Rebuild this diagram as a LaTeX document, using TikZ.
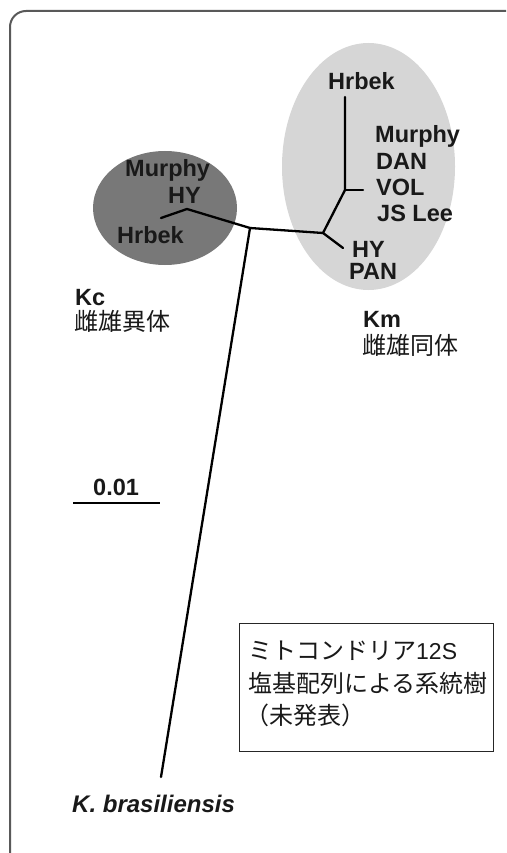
\documentclass[tikz,border=0pt]{standalone}
\usepackage{fontspec}
\setmainfont{Liberation Sans}
\newfontfamily\cjk{Noto Sans CJK JP}
\begin{document}
\begin{tikzpicture}[x=1pt,y=-1pt,
  lbl/.style={font=\fontsize{23.5}{26}\selectfont\bfseries, text=black!90, inner sep=0pt, anchor=base west},
  jlbl/.style={font=\fontsize{24}{27}\selectfont\cjk, text=black!90, inner sep=0pt, anchor=west},
  branch/.style={line width=2.3pt, black, line cap=round, line join=round},
  frame/.style={line width=2pt, draw=black!65, rounded corners=16pt}]
\useasboundingbox (0,0) rectangle (506,853);
\begin{scope}
\clip (0,0) rectangle (506,853);
\draw[frame] (10,11) rectangle (545,885);
\end{scope}
% clusters
\fill[black!53] (165,208) ellipse [x radius=72, y radius=57];
\fill[black!16] (368.5,166.5) ellipse [x radius=86.5, y radius=123.5];
% tree coordinates
\coordinate (kcH) at (161,218);
\coordinate (kcN) at (187,209);
\coordinate (root) at (250,228);
\coordinate (kmN) at (323,233);
\coordinate (kmHY) at (343,248);
\coordinate (kmU) at (345,190);
\coordinate (kmHr) at (345,97);
\coordinate (kmM) at (363,190);
\coordinate (kb) at (161,777);
\draw[branch] (kcH) -- (kcN) -- (root) -- (kmN) -- (kmHY);
\draw[branch] (kmN) -- (kmU) -- (kmHr);
\draw[branch] (kmU) -- (kmM);
\draw[branch] (root) -- (kb);
% Km labels
\node[lbl] (tHr) at (328,90) {Hrbek};
\node[lbl] (tMu) at (375,143) {Murphy};
\node[lbl] (tDA) at (376,169) {DAN};
\node[lbl] (tVO) at (376,196) {VOL};
\node[lbl] (tJS) at (377,221) {JS Lee};
\node[lbl] (tHY) at (352,257) {HY};
\node[lbl] (tPA) at (349,279) {PAN};
\node[lbl] (tKm) at (363,327) {Km};
\node[jlbl] (jKm) at (362,345) {雌雄同体};
% Kc labels
\node[lbl] (cMu) at (125,176) {Murphy};
\node[lbl] (cHY) at (168,204) {HY};
\node[lbl] (cHr) at (117,243) {Hrbek};
\node[lbl] (tKc) at (75,305) {Kc};
\node[jlbl] (jKc) at (74,321) {雌雄異体};
% scale bar
\node[lbl] (sc) at (93,495) {0.01};
\coordinate (sL) at (73,503);
\coordinate (sR) at (160,503);
\draw[line width=1.8pt] (sL) -- (sR);
% outgroup
\node[lbl, font=\fontsize{24}{26}\selectfont\bfseries\itshape] (kbt) at (72,812) {K. brasiliensis};
% box
\node[draw=black!85, line width=1.2pt, minimum width=254pt, minimum height=128pt, anchor=north west] (bx) at (239,623) {};
\node[jlbl] (b1) at (248,651) {ミトコンドリア{\fontsize{23}{26}\selectfont\rmfamily 12S}};
\node[jlbl] (b2) at (248,683) {塩基配列による系統樹};
\node[jlbl] (b3) at (245,715) {（未発表）};
\end{tikzpicture}
\end{document}
